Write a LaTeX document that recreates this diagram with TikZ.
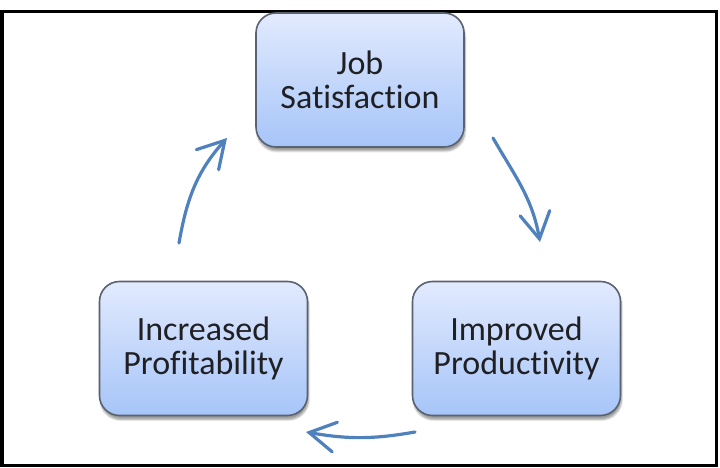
\documentclass[tikz,border=0pt]{standalone}
\usepackage{fontspec}
\setmainfont{Carlito}[Ligatures=NoCommon]
\usetikzlibrary{arrows.meta, shadows.blur}

\definecolor{arrowblue}{RGB}{79,129,189}
\definecolor{boxtop}{RGB}{226,234,254}
\definecolor{boxbottom}{RGB}{166,197,248}
\definecolor{boxline}{RGB}{90,98,112}
\definecolor{textgray}{RGB}{32,32,36}

\tikzset{
  stage/.style={draw=boxline, line width=1.6pt, rounded corners=20pt,
    top color=boxtop, bottom color=boxbottom,
    minimum width=208pt, minimum height=134pt, align=center,
    text=textgray, font=\fontsize{34}{34}\selectfont,
    blur shadow={shadow xshift=1pt, shadow yshift=-4pt, shadow blur steps=6, shadow opacity=40}},
  cyc/.style={draw=arrowblue, line width=3.2pt, line cap=round,
    -{Straight Barb[length=26pt,width=30pt,line cap=round]}}
}

\begin{document}
\begin{tikzpicture}[x=1pt,y=1pt]
				  \useasboundingbox (0,0) rectangle (720,468);
				  \draw[line width=3.5pt] (1.75,2.5) rectangle (716.5,456.5);
				  \node[stage] (job) at (360,388) {Job\\Satisfaction};
				  \node[stage] (profit) at (203.5,119.5) {Increased\\Profitability};
				  \node[stage] (product) at (516.5,119.5) {Improved\\Productivity};
				  \coordinate (r1) at (493,330);
				  \coordinate (r2) at (540,226);
				  \coordinate (b1) at (415,36);
				  \coordinate (b2) at (306,36);
				  \coordinate (l1) at (179,225);
				  \coordinate (l2) at (227,330);
				  \draw[cyc] (r1) to[out=-60, in=100] (r2);
				  \draw[cyc] (b1) to[out=190, in=-10] (b2);
				  \draw[cyc] (l1) to[out=80, in=228] (l2);
				\end{tikzpicture}
\end{document}
